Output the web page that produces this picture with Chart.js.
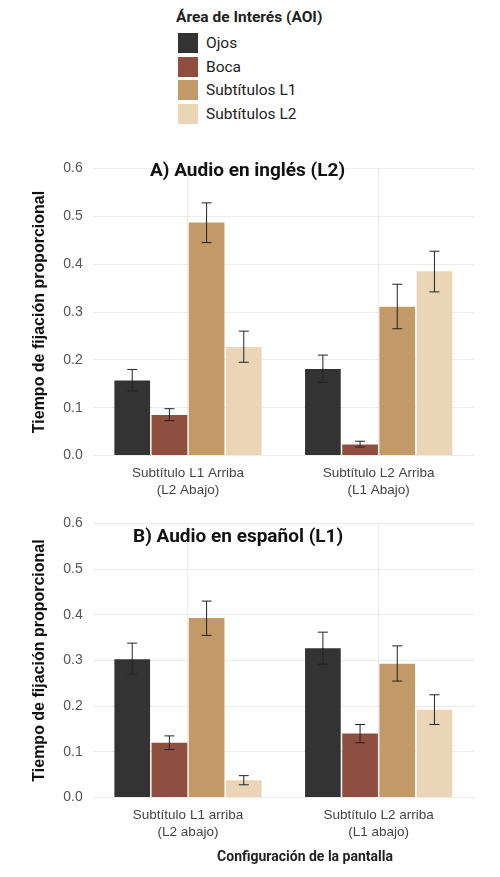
<!DOCTYPE html>
<html><head><meta charset="utf-8">
<script src="https://cdn.jsdelivr.net/npm/chart.js@4"></script>
<style>
body{margin:0;width:500px;height:877px;background:#fff;font-family:Roboto,"DejaVu Sans",sans-serif;position:relative;overflow:hidden}
.c{position:absolute;left:0;width:500px}
#leg{position:absolute;left:178px;top:8px;font-size:15.5px;color:#222}
#leg .t{font-weight:bold;margin-bottom:6px;margin-left:-2px}
#leg .i{display:flex;align-items:center;height:22px;margin-bottom:1.5px}
#leg .s{width:20px;height:20px;margin-right:8px}
.ti{position:absolute;font-weight:bold;font-size:19px;color:#111}
#xt{position:absolute;top:848px;left:0;width:500px;text-align:center;padding-left:110px;box-sizing:border-box;font-size:14px;font-weight:bold;color:#222}
</style></head><body>
<div id="leg"></div>
<div class="c" style="top:150px;height:358px"><canvas id="a"></canvas></div>
<div class="c" style="top:505px;height:345px"><canvas id="b"></canvas></div>
<div class="ti" style="left:150px;top:158px">A) Audio en inglés (L2)</div>
<div class="ti" style="left:133px;top:524px">B) Audio en español (L1)</div>
<div id="xt">Configuración de la pantalla</div>
<script>
const series=["Ojos","Boca","Subtítulos L1","Subtítulos L2"];
const colors=["#333333","#8e4e40","#c29a68","#ead6b6"];
const catsA=[["Subtítulo L1 Arriba","(L2 Abajo)"],["Subtítulo L2 Arriba","(L1 Abajo)"]];
const catsB=[["Subtítulo L1 arriba","(L2 abajo)"],["Subtítulo L2 arriba","(L1 abajo)"]];
const valsA=[[0.157,0.181],[0.085,0.023],[0.487,0.311],[0.227,0.385]];
const lowA=[[0.135,0.153],[0.073,0.018],[0.445,0.265],[0.195,0.342]];
const highA=[[0.180,0.210],[0.098,0.030],[0.528,0.358],[0.260,0.427]];
const valsB=[[0.303,0.327],[0.120,0.140],[0.393,0.293],[0.038,0.192]];
const lowB=[[0.270,0.292],[0.105,0.120],[0.355,0.255],[0.028,0.160]];
const highB=[[0.338,0.362],[0.135,0.160],[0.430,0.332],[0.048,0.225]];
const yTicks=[0,0.1,0.2,0.3,0.4,0.5,0.6];

const leg=document.getElementById('leg');
leg.innerHTML='<div class="t">Área de Interés (AOI)</div>'+series.map((s,i)=>`<div class="i"><div class="s" style="background:${colors[i]}"></div>${s}</div>`).join('');

const errPlugin={id:'err',afterDatasetsDraw(ch,a,o){
  const ctx=ch.ctx,y=ch.scales.y;ctx.save();ctx.strokeStyle='#222';ctx.lineWidth=1;
  ch.data.datasets.forEach((ds,di)=>{ch.getDatasetMeta(di).data.forEach((bar,j)=>{
    const x=bar.x,y1=y.getPixelForValue(ds.lo[j]),y2=y.getPixelForValue(ds.hi[j]);
    ctx.beginPath();ctx.moveTo(x,y1);ctx.lineTo(x,y2);
    ctx.moveTo(x-5,y1);ctx.lineTo(x+5,y1);ctx.moveTo(x-5,y2);ctx.lineTo(x+5,y2);ctx.stroke();});});
  ctx.restore();}};

function make(id,cats,vals,lo,hi){
  new Chart(document.getElementById(id),{type:'bar',plugins:[errPlugin],
    data:{labels:cats,datasets:series.map((s,i)=>({label:s,data:vals[i],lo:lo[i],hi:hi[i],backgroundColor:colors[i]}))},
    options:{responsive:true,maintainAspectRatio:false,animation:false,
      layout:{padding:{top:8,right:26,left:26,bottom:0}},
      plugins:{legend:{display:false},tooltip:{enabled:false}},
      datasets:{bar:{categoryPercentage:0.78,barPercentage:0.96}},
      scales:{
        x:{grid:{color:'#ececec',drawTicks:false,offset:false},border:{display:false},ticks:{color:'#444',font:{size:13.5},padding:10}},
        y:{min:0,max:0.6,afterBuildTicks:ax=>{ax.ticks=yTicks.map(v=>({value:v}))},
           grid:{color:'#ececec',drawTicks:false},border:{display:false},
           ticks:{color:'#555',font:{size:14},padding:10,callback:v=>v.toFixed(1)},
           title:{display:true,text:'Tiempo de fijación proporcional',color:'#111',font:{size:16,weight:'bold'}}}}}});
}
make('a',catsA,valsA,lowA,highA);
make('b',catsB,valsB,lowB,highB);
</script></body></html>
